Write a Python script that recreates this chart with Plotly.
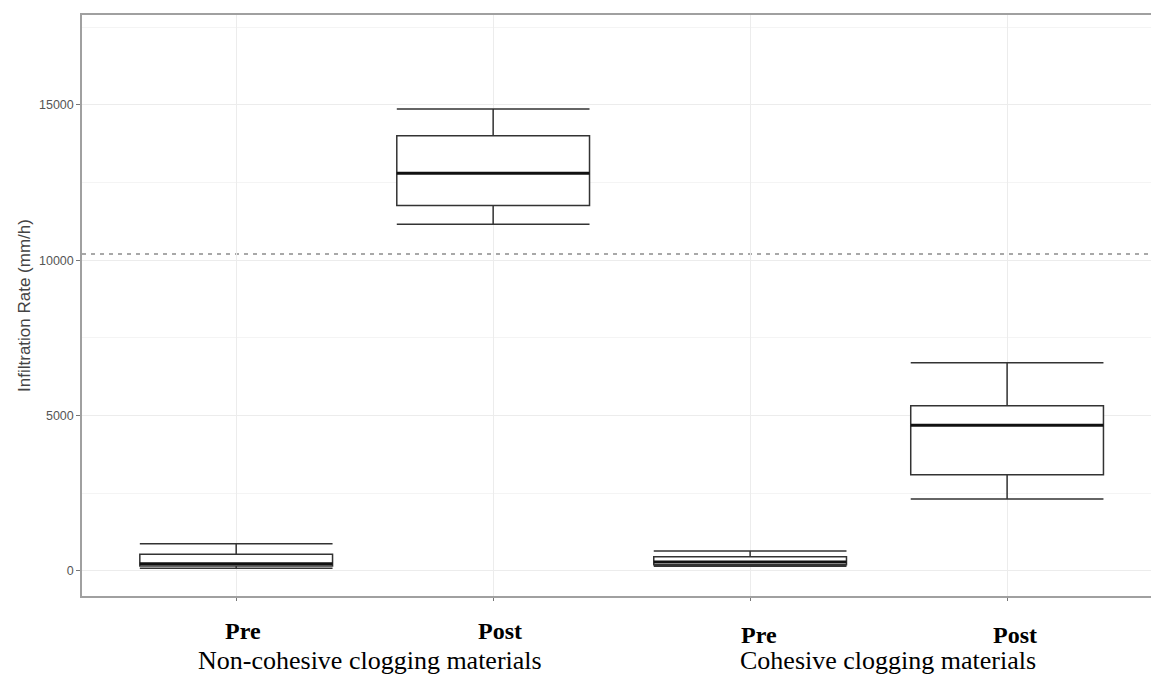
import plotly.graph_objects as go

# ---- data ----
categories = ["Pre", "Post", "Pre", "Post"]
groups = ["Non-cohesive clogging materials", "Cohesive clogging materials"]
lower_whisker = [90, 11160, 150, 2320]
q1 = [160, 11760, 200, 3100]
median = [230, 12800, 290, 4690]
q3 = [540, 14010, 460, 5320]
upper_whisker = [880, 14870, 640, 6700]
threshold = 10200
y_ticks = [0, 5000, 10000, 15000]
y_minor = [2500, 7500, 12500, 17500]

positions = list(range(len(categories)))
box_width = 0.75
line_col = "#333333"

fig = go.Figure()
for i, pos in enumerate(positions):
    fig.add_trace(go.Box(
        x=[pos], q1=[q1[i]], median=[median[i]], q3=[q3[i]],
        lowerfence=[lower_whisker[i]], upperfence=[upper_whisker[i]],
        width=box_width, whiskerwidth=1,
        fillcolor="white", line=dict(color=line_col, width=1.5),
        boxpoints=False, showlegend=False, hoverinfo="skip"))
    # thicker median line (ggplot style)
    fig.add_trace(go.Scatter(
        x=[pos - box_width / 2, pos + box_width / 2], y=[median[i], median[i]],
        mode="lines", line=dict(color="#111111", width=3),
        showlegend=False, hoverinfo="skip"))

fig.add_hline(y=threshold, line=dict(color="#a8a8a8", width=2, dash="4px,5px"), layer="below")

tick_font = dict(family="Liberation Sans, Arial, sans-serif", size=12.5, color="#555555")

fig.update_layout(
    width=1151, height=677,
    margin=dict(l=82, r=0, t=15, b=81),
    paper_bgcolor="white", plot_bgcolor="white",
    xaxis=dict(
        range=[-0.6, 3.56], tickvals=positions, ticktext=["" for _ in categories],
        showgrid=True, gridcolor="#ececec", gridwidth=1,
        showline=True, linecolor="#a0a0a0", linewidth=1.5, mirror=True,
        ticks="outside", ticklen=3, tickcolor="#777", zeroline=False),
    yaxis=dict(
        range=[-805, 17895], tickvals=y_ticks, ticktext=[str(v) for v in y_ticks],
        showgrid=True, gridcolor="#ececec", gridwidth=1,
        minor=dict(tickvals=y_minor, showgrid=True, gridcolor="#f4f4f4", gridwidth=1),
        showline=True, linecolor="#a0a0a0", linewidth=1.5,
        ticks="outside", ticklen=4, tickcolor="#777", zeroline=False,
        tickfont=tick_font,
        title=dict(text="Infiltration Rate (mm/h)", standoff=4,
                   font=dict(family="Liberation Sans, Arial, sans-serif", size=17, color="#444"))),
)

serif = "Liberation Serif, Times New Roman, serif"
# category labels (pixel centres of the pasted-in labels)
cat_pix = [(243, 631), (500, 631), (759, 635), (1015, 635)]
for lab, (px, py) in zip(categories, cat_pix):
    fig.add_annotation(text="<b>" + lab + "</b>", xref="paper", yref="paper",
                       x=(px - 82) / 1069, y=1 - (py - 15) / 581,
                       showarrow=False, xanchor="center", yanchor="middle",
                       font=dict(family=serif, size=24, color="black"))
grp_pix = [(370, 660), (888, 660)]
for lab, (px, py) in zip(groups, grp_pix):
    fig.add_annotation(text=lab, xref="paper", yref="paper",
                       x=(px - 82) / 1069, y=1 - (py - 15) / 581,
                       showarrow=False, xanchor="center", yanchor="middle",
                       font=dict(family=serif, size=26, color="black"))

fig.write_html("out.html", config={"displayModeBar": False},
               post_script="document.body.style.margin='0';document.body.style.padding='0';")
